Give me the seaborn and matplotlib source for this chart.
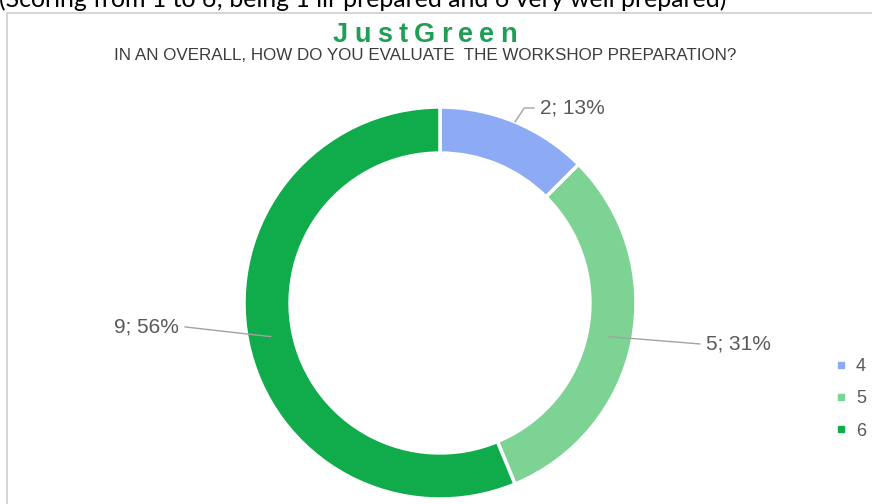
import matplotlib
matplotlib.use("Agg")
import matplotlib.pyplot as plt
from matplotlib.lines import Line2D
from matplotlib.patches import Rectangle
import numpy as np
import seaborn as sns

# ---- data ----
categories = ["4", "5", "6"]
counts = [2, 5, 9]
slice_colors = ["#8cabf4", "#7cd394", "#10ab4b"]
title = "JustGreen"
subtitle = "IN AN OVERALL, HOW DO YOU EVALUATE  THE WORKSHOP PREPARATION?"
header = "(Scoring from 1 to 6; being 1 ill-prepared and 6 very well prepared)"

sns.set_theme(style="white")
plt.rcParams["font.family"] = ["Liberation Sans", "DejaVu Sans"]
palette = sns.color_palette(slice_colors)

W, H = 872, 504
fig = plt.figure(figsize=(W / 100, H / 100), dpi=100)
fig.patch.set_facecolor("white")


def fx(px):
    return px / W


def fy(py):
    return 1 - py / H


# frame of the embedded chart
fig.patches.append(Rectangle((fx(7), fy(H + 10)), fx(W + 20) - fx(7), fy(13) - fy(H + 10),
                             transform=fig.transFigure, facecolor="none",
                             edgecolor="#d2d2d2", lw=1.3, zorder=-5))

# ---- donut ----
cx, cy, R = 440, 303, 196
ax = fig.add_axes([fx(cx - R), fy(cy + R), 2 * R / W, 2 * R / H])
ax.set_zorder(2)
ax.patch.set_alpha(0)
wedges, _ = ax.pie(counts, colors=palette, startangle=90, counterclock=False, radius=1,
                   wedgeprops=dict(width=0.235, edgecolor="white", linewidth=2.5))
ax.set_xlim(-1, 1)
ax.set_ylim(-1, 1)
ax.axis("off")

total = sum(counts)
cum = np.cumsum([0] + counts)
label_pos = [(0.51, 0.995), (1.357, -0.209), (-1.332, -0.122)]
label_ha = ["left", "left", "right"]
start_r = [1.0, 0.88, 0.88]
for i, v in enumerate(counts):
    mid = np.deg2rad((cum[i] + v / 2) / total * 360)
    sx, sy = start_r[i] * np.sin(mid), start_r[i] * np.cos(mid)
    tx, ty = label_pos[i]
    gap = 0.03 if label_ha[i] == "left" else -0.03
    ex = tx - gap
    if i == 0:
        xs, ys = [sx, ex - 0.05, ex], [sy, ty, ty]
    else:
        xs, ys = [sx, ex], [sy, ty]
    ax.plot(xs, ys, color="#a3a3a3", lw=1.0, clip_on=False)
    pct = int(100 * v / total + 0.5)
    ax.text(tx, ty, f"{v}; {pct}%", ha=label_ha[i], va="center", fontsize=15,
            color="#595959", clip_on=False)

# ---- legend ----
handles = [Line2D([], [], marker="s", ls="", markersize=4, color=c) for c in palette]
fig.legend(handles, categories, loc="upper left", bbox_to_anchor=(fx(836), fy(358)),
           frameon=False, fontsize=13, handlelength=0.5, handletextpad=0.6,
           labelspacing=0.85, borderpad=0, borderaxespad=0, labelcolor="#595959")

# ---- texts ----
fig.canvas.draw()
rend = fig.canvas.get_renderer()


def fit_width(t, target):
    w = t.get_window_extent(rend).width
    t.set_fontsize(t.get_fontsize() * target / w)


hdr = fig.text(fx(-1), fy(7), header, ha="left", va="baseline", fontsize=15,
               family=["Lato", "DejaVu Sans"], color="black")
fit_width(hdr, 728)

sub = fig.text(fx(425), fy(60), subtitle, ha="center", va="baseline", fontsize=10,
               color="#3c3c3c")
fit_width(sub, 624)

# spaced-out title, letter by letter
title_size = 19.5
letters = [fig.text(0, fy(42), ch, ha="left", va="baseline", fontsize=title_size,
                    fontweight="bold", color="#1f9e55") for ch in title]
widths = [t.get_window_extent(rend).width for t in letters]
target = 184
track = (target - sum(widths)) / (len(letters) - 1)
x = 425 - target / 2
for t, w in zip(letters, widths):
    t.set_x(fx(x))
    x += w + track

fig.savefig("out.png", dpi=100)
